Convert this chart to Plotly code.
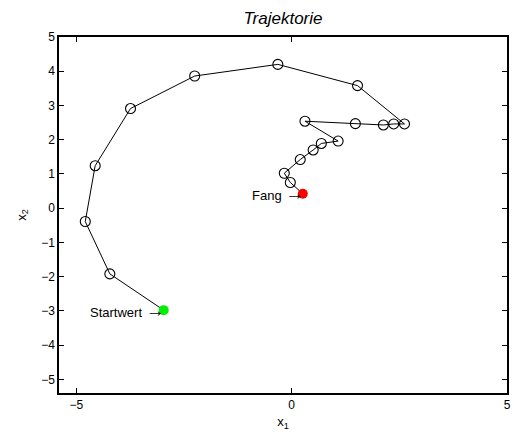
import plotly.graph_objects as go

# State trajectory (x1, x2) from the start value to the capture point
x1 = [-2.97, -4.22, -4.79, -4.56, -3.74, -2.25, -0.32, 1.53, 2.62, 2.37, 2.13,
      1.48, 0.31, 1.08, 0.69, 0.50, 0.20, -0.17, -0.03, 0.26]
x2 = [-2.98, -1.92, -0.39, 1.24, 2.91, 3.86, 4.20, 3.58, 2.46, 2.46, 2.43,
      2.47, 2.54, 1.96, 1.89, 1.70, 1.42, 1.02, 0.75, 0.42]

x_ticks = [-5, 0, 5]
y_ticks = list(range(-5, 6))
axis_range = [-5.4, 5]

title_text = "Trajektorie"
start_label = "Startwert"
end_label = "Fang"

FONT = "Liberation Sans, Arial, Helvetica, sans-serif"
ARROW = "<span style='font-family:Liberation Sans;font-size:19px'>\u2192</span>"

fig = go.Figure()

# connecting line through all states
fig.add_trace(go.Scatter(
    x=x1, y=x2, mode="lines",
    line=dict(color="black", width=1),
    hoverinfo="skip", showlegend=False,
))

# intermediate states as open circles
fig.add_trace(go.Scatter(
    x=x1[1:-1], y=x2[1:-1], mode="markers",
    marker=dict(symbol="circle-open", size=10, color="black",
                line=dict(width=1.1, color="black")),
    showlegend=False,
))

# start value (green) and capture point (red)
fig.add_trace(go.Scatter(
    x=[x1[0]], y=[x2[0]], mode="markers",
    marker=dict(symbol="circle", size=10, color="#00ee00"),
    showlegend=False,
))
fig.add_trace(go.Scatter(
    x=[x1[-1]], y=[x2[-1]], mode="markers",
    marker=dict(symbol="circle", size=10, color="#ff0000"),
    showlegend=False,
))

# labels pointing at the start value and the capture point
for lx, ly, label in [(x1[0], x2[0], start_label), (x1[-1], x2[-1], end_label)]:
    fig.add_annotation(x=lx, y=ly, text=f"{label} {ARROW}",
                       showarrow=False, xanchor="right", yanchor="middle",
                       xshift=3, font=dict(family=FONT, size=13, color="black"))

axis_common = dict(
    range=axis_range, showgrid=False, zeroline=False,
    showline=True, linecolor="black", linewidth=1.5, mirror="ticks",
    ticks="inside", ticklen=5, tickwidth=1, tickcolor="black",
    tickfont=dict(family=FONT, size=12, color="black"),
)

fig.update_xaxes(
    **axis_common, tickmode="array", tickvals=x_ticks,
    title=dict(text="x<sub>1</sub>", standoff=6,
               font=dict(family=FONT, size=13, color="black")),
)
fig.update_yaxes(
    **axis_common, tickmode="array", tickvals=y_ticks,
    title=dict(text="x<sub>2</sub>", standoff=12,
               font=dict(family=FONT, size=13, color="black")),
)

fig.update_layout(
    width=514, height=434,
    margin=dict(l=59, r=3, t=37, b=41),
    paper_bgcolor="white", plot_bgcolor="white",
    title=dict(text=f"<i>{title_text}</i>", x=0.5, xref="paper",
               y=1 - 18.5 / 434, yref="container", yanchor="middle",
               xanchor="center",
               font=dict(family=FONT, size=17, color="black")),
)

fig.write_html("out.html")
